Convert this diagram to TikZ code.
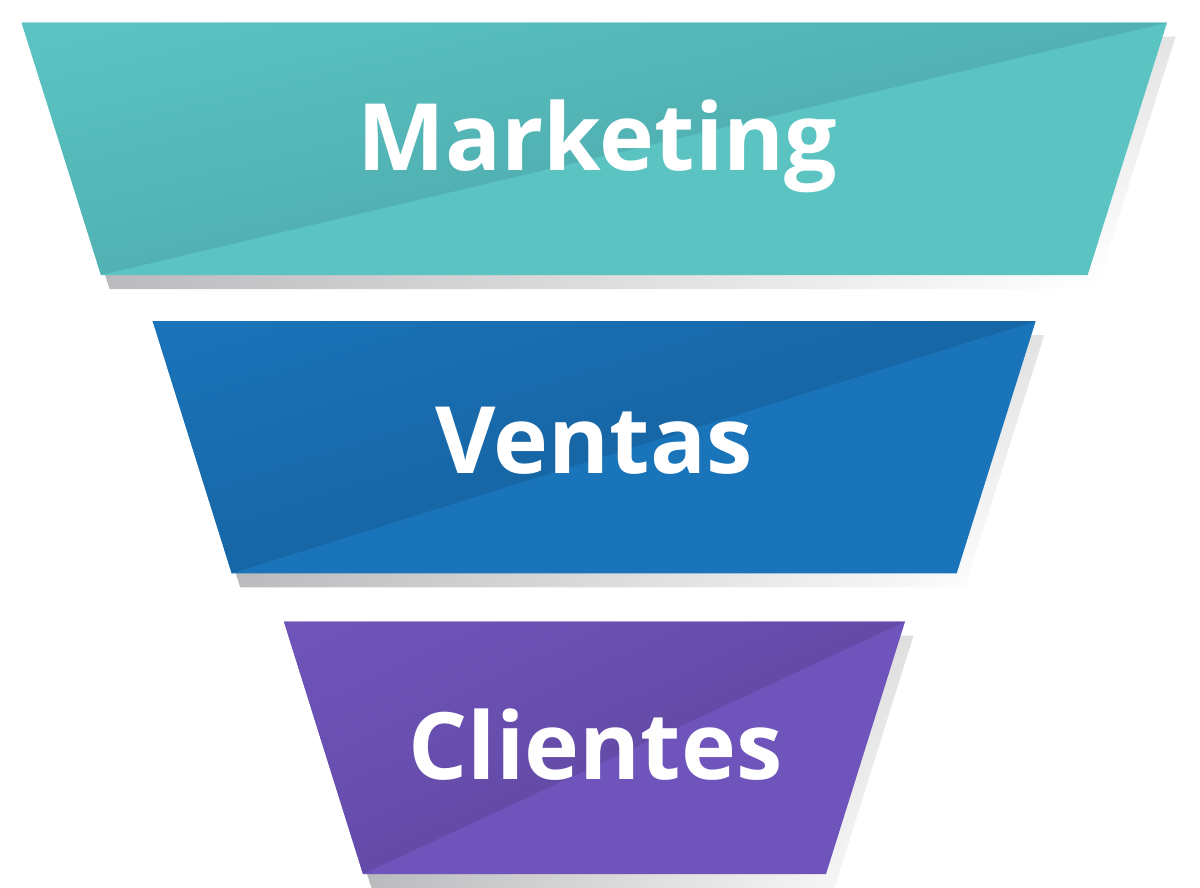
\documentclass[tikz,border=0pt]{standalone}
\usepackage{fontspec}
\setmainfont{Open Sans}
\definecolor{tealbase}{HTML}{5BC4C3}
\definecolor{tealdark}{HTML}{51B1B3}
\definecolor{bluebase}{HTML}{1A74BA}
\definecolor{bluedark}{HTML}{1766A5}
\definecolor{purplebase}{HTML}{6F55BB}
\definecolor{purpledark}{HTML}{654BA8}
\definecolor{shadowdark}{RGB}{139,140,143}
\tikzset{
  lbl/.style={text=white, font=\fontsize{93}{100}\selectfont\bfseries, inner sep=0pt, anchor=base},
}
% #1 TLx, #2 BLx, #3 BRx, #4 top y, #5 bottom y, #6 base colour, #7 dark colour
\newcommand\funnelpiece[7]{%
  \pgfmathsetmacro\fpdx{#2-#1}%
  \pgfmathsetmacro\fptrx{#3+\fpdx}%
  \pgfmathsetmacro\fpang{atan2(#5-#4,\fptrx-#2)}%
  \pgfmathsetmacro\fpgx{78.5/(\fptrx-#1)}%
  \pgfmathsetmacro\fpmag{sqrt(\fpgx*\fpgx+0.13*0.13)}%
  \pgfmathsetmacro\fpsang{-atan2(0.13,\fpgx)}%
  \pgfmathsetmacro\fpsl{-48/\fpmag}%
  \pgfmathsetmacro\fpsr{67/\fpmag}%
  % shadow
  \begin{scope}
    \clip ({#1+8.5},{#4+14}) -- ({\fptrx+8.5},{#4+14}) -- ({#3+8.5},{#5+14}) -- ({#2+8.5},{#5+14}) -- cycle;
    \begin{scope}[transform canvas={rotate around={\fpsang:({#2+8.5},{#5+14})}}]
      \shade[left color=shadowdark, right color=white] ({#2+8.5+\fpsl},{#5+14-1500}) rectangle ({#2+8.5+\fpsr},{#5+14+1500});
    \end{scope}
  \end{scope}
  % body
  \fill[#6] (#1,#4) -- (\fptrx,#4) -- (#3,#5) -- (#2,#5) -- cycle;
  % shaded upper-left triangle
  \begin{scope}
    \clip (#1,#4) -- (\fptrx,#4) -- (#2,#5) -- cycle;
    \begin{scope}[transform canvas={rotate around={\fpang:(#2,#5)}}]
      \shade[top color=#6, bottom color=#7] ({#2-400},{#5-266}) rectangle ({#2+1500},{#5});
    \end{scope}
  \end{scope}
}
\begin{document}
\begin{tikzpicture}[x=1pt,y=-1pt]
  \useasboundingbox[fill=white] (0,0) rectangle (1200,887);
  \funnelpiece{21.7}{101}{1087.7}{22.7}{275}{tealbase}{tealdark}
  \funnelpiece{152.7}{231.7}{956.7}{321}{573.3}{bluebase}{bluedark}
  \funnelpiece{284}{363}{826}{621.7}{874}{purplebase}{purpledark}
  \node[lbl] (marketing) at (597.5,170) {Marketing};
  \node[lbl] (ventas) at (594,473.3) {Ventas};
  \node[lbl] (clientes) at (595.5,779.3) {Clientes};
\end{tikzpicture}
\end{document}
